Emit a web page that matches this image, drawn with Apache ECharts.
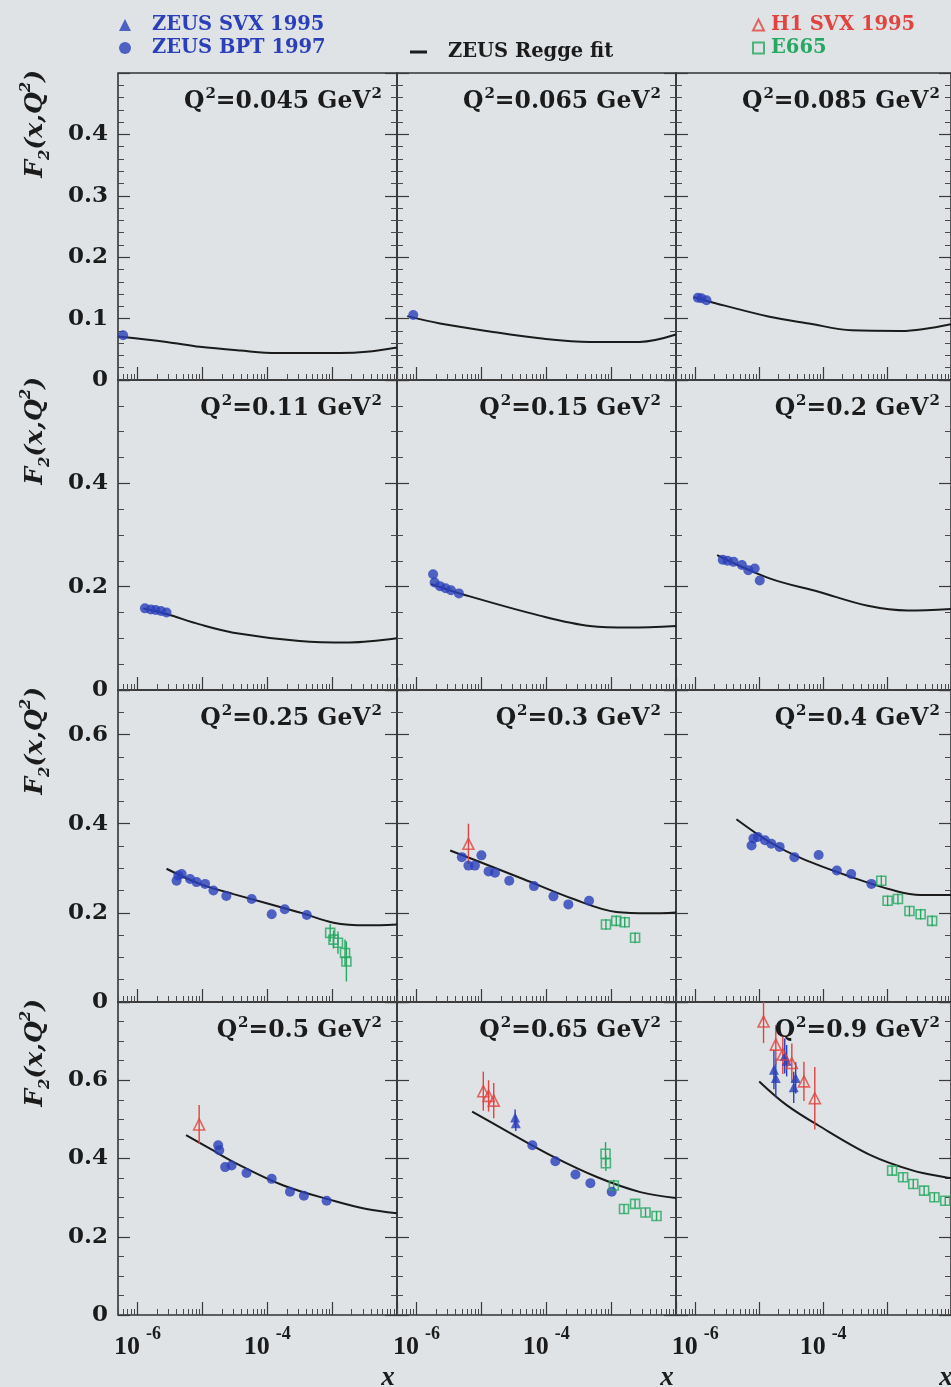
<!DOCTYPE html>
<html>
<head>
<meta charset="utf-8">
<script src="https://cdn.jsdelivr.net/npm/echarts@6/dist/echarts.min.js"></script>
<style>
  html, body { margin: 0; padding: 0; background: #dfe3e5; }
  #chart { width: 951px; height: 1387px; }
</style>
</head>
<body>
<div id="chart"></div>
<script>
// ---- Q^2 bins (one panel each, 3 per row) ----
const q2Labels = ['0.045', '0.065', '0.085', '0.11', '0.15', '0.2', '0.25', '0.3', '0.4', '0.5', '0.65', '0.9'];
const rowMax = [0.5, 0.6, 0.7, 0.8];
const rowStep = [0.1, 0.2, 0.2, 0.2];
const xLabelExponents = [-6, -4];

// ---- ZEUS Regge fit, [x, F2] ----
const regge0045 = [[5.0e-7, 0.071], [2.8e-6, 0.062], [9.1e-6, 0.054], [3.8e-5, 0.048], [1.41e-4, 0.044], [1.32e-3, 0.044], [3.39e-3, 0.046], [1e-2, 0.053]];
const regge0065 = [[7.2e-7, 0.104], [2.3e-6, 0.092], [1.35e-5, 0.079], [7.9e-5, 0.068], [4.7e-4, 0.062], [2.75e-3, 0.062], [1e-2, 0.074]];
const regge0085 = [[9.4e-7, 0.135], [1.62e-6, 0.128], [1.45e-5, 0.103], [6.0e-5, 0.092], [2.8e-4, 0.081], [1.66e-3, 0.080], [1e-2, 0.091]];
const regge011 = [[1.22e-6, 0.158], [2.8e-6, 0.147], [9.1e-6, 0.127], [3.0e-5, 0.111], [3.16e-4, 0.095], [1.86e-3, 0.092], [1e-2, 0.100]];
const regge015 = [[1.67e-6, 0.205], [5.9e-6, 0.183], [7.9e-5, 0.144], [4.7e-4, 0.124], [1.95e-3, 0.121], [1e-2, 0.124]];
const regge020 = [[2.2e-6, 0.261], [1.45e-5, 0.216], [8.5e-5, 0.190], [5.0e-4, 0.163], [2.09e-3, 0.154], [1e-2, 0.157]];
const regge025 = [[2.8e-6, 0.299], [9.1e-6, 0.265], [3.02e-5, 0.242], [3.16e-4, 0.201], [1.05e-3, 0.178], [3.4e-3, 0.172], [1e-2, 0.174]];
const regge030 = [[3.3e-6, 0.340], [9.5e-6, 0.314], [4.4e-5, 0.276], [2.63e-4, 0.231], [1.2e-3, 0.202], [3.98e-3, 0.199], [1e-2, 0.201]];
const regge040 = [[4.4e-6, 0.410], [1.45e-5, 0.359], [4.79e-5, 0.321], [2.82e-4, 0.280], [1.3e-3, 0.250], [3.35e-3, 0.240], [1e-2, 0.240]];
const regge050 = [[5.6e-6, 0.460], [1.31e-5, 0.425], [3.02e-5, 0.391], [1.78e-4, 0.331], [1.05e-3, 0.292], [3.39e-3, 0.271], [1e-2, 0.260]];
const regge065 = [[7.2e-6, 0.520], [2.57e-5, 0.468], [1.17e-4, 0.408], [6.17e-4, 0.352], [2.82e-3, 0.314], [1e-2, 0.299]];
const regge090 = [[1.0e-5, 0.597], [2.66e-5, 0.537], [8.32e-5, 0.485], [5.62e-4, 0.408], [2.57e-3, 0.369], [8.1e-3, 0.352], [1e-2, 0.350]];

// ---- ZEUS BPT 1997, [x, F2] ----
const bpt0045 = [[6.0e-7, 0.073]];
const bpt0065 = [[8.9e-7, 0.106]];
const bpt0085 = [[1.1e-6, 0.134], [1.25e-6, 0.133], [1.5e-6, 0.130]];
const bpt011 = [[1.3e-6, 0.158], [1.6e-6, 0.156], [1.9e-6, 0.155], [2.3e-6, 0.153], [2.8e-6, 0.150]];
const bpt015 = [[1.8e-6, 0.224], [1.9e-6, 0.208], [2.3e-6, 0.201], [2.8e-6, 0.197], [3.4e-6, 0.193], [4.5e-6, 0.187]];
const bpt020 = [[2.69e-6, 0.252], [3.2e-6, 0.250], [3.98e-6, 0.248], [5.37e-6, 0.242], [6.76e-6, 0.232], [8.51e-6, 0.235], [1.02e-5, 0.212]];
const bpt025 = [[4.0e-6, 0.272], [4.25e-6, 0.284], [4.79e-6, 0.287], [6.46e-6, 0.276], [8.13e-6, 0.269], [1.10e-5, 0.265], [1.48e-5, 0.250], [2.34e-5, 0.238], [5.75e-5, 0.231], [1.17e-4, 0.197], [1.86e-4, 0.208], [4.07e-4, 0.195]];
const bpt030 = [[5.0e-6, 0.325], [6.31e-6, 0.306], [7.94e-6, 0.306], [1.0e-5, 0.329], [1.29e-5, 0.293], [1.62e-5, 0.290], [2.69e-5, 0.272], [6.46e-5, 0.260], [1.29e-4, 0.237], [2.19e-4, 0.219], [4.57e-4, 0.227]];
const bpt040 = [[7.59e-6, 0.351], [8.13e-6, 0.367], [9.55e-6, 0.370], [1.23e-5, 0.363], [1.55e-5, 0.355], [2.09e-5, 0.348], [3.55e-5, 0.325], [8.51e-5, 0.330], [1.64e-4, 0.295], [2.75e-4, 0.287], [5.69e-4, 0.265]];
const bpt050 = [[1.75e-5, 0.434], [1.82e-5, 0.421], [2.24e-5, 0.378], [2.82e-5, 0.382], [4.79e-5, 0.363], [1.17e-4, 0.348], [2.24e-4, 0.315], [3.67e-4, 0.305], [8.22e-4, 0.292]];
const bpt065 = [[6.1e-5, 0.434], [1.38e-4, 0.393], [2.82e-4, 0.359], [4.79e-4, 0.337], [1.02e-3, 0.315]];

// ---- ZEUS SVX 1995, [x, F2, error] ----
const svx065 = [[3.31e-5, 0.505, 0.02], [3.39e-5, 0.490, 0.02]];
const svx090 = [[1.70e-5, 0.627, 0.05], [1.82e-5, 0.606, 0.05], [2.51e-5, 0.662, 0.045], [2.69e-5, 0.650, 0.04], [3.47e-5, 0.582, 0.04], [3.72e-5, 0.606, 0.04]];

// ---- H1 SVX 1995, [x, F2, error] ----
const h1030 = [[6.31e-6, 0.355, 0.045]];
const h1050 = [[8.91e-6, 0.487, 0.05]];
const h1065 = [[1.07e-5, 0.572, 0.05], [1.29e-5, 0.560, 0.04], [1.55e-5, 0.548, 0.045]];
const h1090 = [[1.17e-5, 0.750, 0.055], [1.82e-5, 0.691, 0.05], [2.34e-5, 0.666, 0.05], [3.24e-5, 0.644, 0.05], [5.01e-5, 0.597, 0.05], [7.41e-5, 0.554, 0.08]];

// ---- E665, [x, F2, error] ----
const e665025 = [[9.33e-4, 0.155, 0.02], [1.05e-3, 0.140, 0.02], [1.23e-3, 0.133, 0.025], [1.58e-3, 0.110, 0.03], [1.66e-3, 0.091, 0.045]];
const e665030 = [[8.32e-4, 0.174, 0.012], [1.2e-3, 0.182, 0.012], [1.62e-3, 0.179, 0.012], [2.34e-3, 0.144, 0.012]];
const e665040 = [[8.13e-4, 0.272, 0.012], [1.02e-3, 0.227, 0.012], [1.48e-3, 0.231, 0.012], [2.24e-3, 0.204, 0.012], [3.35e-3, 0.197, 0.012], [5.07e-3, 0.182, 0.012]];
const e665065 = [[8.2e-4, 0.412, 0.03], [8.3e-4, 0.388, 0.02], [1.10e-3, 0.331, 0.015], [1.58e-3, 0.271, 0.012], [2.34e-3, 0.284, 0.012], [3.39e-3, 0.262, 0.012], [5.01e-3, 0.253, 0.012]];
const e665090 = [[1.2e-3, 0.369, 0.012], [1.78e-3, 0.352, 0.012], [2.57e-3, 0.335, 0.012], [3.8e-3, 0.318, 0.012], [5.5e-3, 0.301, 0.012], [8.13e-3, 0.292, 0.012]];

const panels = [
  { regge: regge0045, bpt: bpt0045, svx: [], h1: [], e665: [] },
  { regge: regge0065, bpt: bpt0065, svx: [], h1: [], e665: [] },
  { regge: regge0085, bpt: bpt0085, svx: [], h1: [], e665: [] },
  { regge: regge011, bpt: bpt011, svx: [], h1: [], e665: [] },
  { regge: regge015, bpt: bpt015, svx: [], h1: [], e665: [] },
  { regge: regge020, bpt: bpt020, svx: [], h1: [], e665: [] },
  { regge: regge025, bpt: bpt025, svx: [], h1: [], e665: e665025 },
  { regge: regge030, bpt: bpt030, svx: [], h1: h1030, e665: e665030 },
  { regge: regge040, bpt: bpt040, svx: [], h1: [], e665: e665040 },
  { regge: regge050, bpt: bpt050, svx: [], h1: h1050, e665: [] },
  { regge: regge065, bpt: bpt065, svx: svx065, h1: h1065, e665: e665065 },
  { regge: regge090, bpt: [], svx: svx090, h1: h1090, e665: e665090 }
];

// ---- layout & style ----
const BLUE = '#2b3fba';
const RED = '#e2433f';
const GREEN = '#25a862';
const INK = '#1b1b1b';
const SERIF = 'Liberation Serif';
const WIDE_SERIF = 'DejaVu Serif';
const colLeft = [118, 397, 676];
const colWidth = 279;
const rowTop = [73, 380, 690, 1002];
const rowHeight = [307, 310, 312, 313];
const X_MIN = 5e-7, X_MAX = 1e-2;

const majorX = [];
const minorX = [];
for (let n = -7; n <= -2; n++) {
  for (let m = 1; m <= 9; m++) {
    const v = m * Math.pow(10, n);
    if (v < X_MIN * 0.999 || v > X_MAX * 1.001) continue;
    (m === 1 ? majorX : minorX).push(v);
  }
}
const labelX = xLabelExponents.map(e => Math.pow(10, e));

const grids = [], xAxes = [], yAxes = [], series = [], titles = [], graphics = [];

function errorBars(data, color, ai) {
  return {
    type: 'custom', name: 'err', xAxisIndex: ai, yAxisIndex: ai, clip: true, z: 3,
    data: data,
    encode: { x: 0, y: 1 },
    renderItem(params, api) {
      const x = api.value(0), y = api.value(1), e = api.value(2);
      const p1 = api.coord([x, y + e]);
      const p2 = api.coord([x, y - e]);
      return {
        type: 'line',
        shape: { x1: p1[0], y1: p1[1], x2: p2[0], y2: p2[1] },
        style: { stroke: color, lineWidth: 1.4 }
      };
    }
  };
}

panels.forEach((p, i) => {
  const r = Math.floor(i / 3), c = i % 3;
  const bottomRow = r === 3;
  grids.push({
    left: colLeft[c], top: rowTop[r], width: colWidth, height: rowHeight[r],
    show: true, borderColor: '#333333', borderWidth: 1.6, backgroundColor: 'transparent'
  });
  const ax = 2 * i;
  // main log x axis: decade ticks + labels on the bottom row
  xAxes.push({
    type: 'log', logBase: 10, gridIndex: i, min: X_MIN, max: X_MAX, position: 'bottom',
    axisLine: { show: false },
    splitLine: { show: false },
    axisTick: { show: true, inside: true, length: 13, customValues: majorX, lineStyle: { color: '#3a3a3a', width: 1.2 } },
    axisLabel: {
      show: bottomRow, customValues: labelX, margin: 10,
      formatter: v => '{b|10}{s|' + Math.round(Math.log10(v)) + '}',
      rich: {
        b: { fontFamily: SERIF, fontWeight: 'bold', fontSize: 26, color: INK, verticalAlign: 'bottom' },
        s: { fontFamily: SERIF, fontWeight: 'bold', fontSize: 18, color: INK, verticalAlign: 'bottom', padding: [0, 0, 17, 6] }
      }
    }
  });
  // companion axis carrying the 2..9 minor ticks
  xAxes.push({
    type: 'log', logBase: 10, gridIndex: i, min: X_MIN, max: X_MAX, position: 'bottom',
    axisLine: { show: false }, splitLine: { show: false },
    axisTick: { show: true, inside: true, length: 6, customValues: minorX, lineStyle: { color: '#4a4a4a', width: 1 } },
    axisLabel: { show: false }
  });
  const yCommon = {
    type: 'value', gridIndex: i, min: 0, max: rowMax[r], interval: rowStep[r],
    axisLine: { show: false }, splitLine: { show: false },
    axisTick: { show: true, inside: true, length: 12, lineStyle: { color: '#3a3a3a', width: 1.2 } },
    minorTick: { show: true, splitNumber: r === 0 ? 5 : 4, length: 6, lineStyle: { color: '#4a4a4a', width: 1 } }
  };
  yAxes.push(Object.assign({}, yCommon, {
    position: 'left',
    axisLabel: {
      show: c === 0, showMaxLabel: false, margin: 10,
      fontFamily: WIDE_SERIF, fontWeight: 'bold', fontSize: 23, color: INK
    }
  }));
  yAxes.push(Object.assign({}, yCommon, { position: 'right', axisLabel: { show: false } }));

  series.push({
    type: 'line', name: 'ZEUS Regge fit', xAxisIndex: ax, yAxisIndex: ax,
    data: p.regge, smooth: 0.35, symbol: 'none', z: 2,
    lineStyle: { color: INK, width: 2 }, itemStyle: { color: INK }
  });
  if (p.svx.length) series.push(errorBars(p.svx, BLUE, ax));
  if (p.h1.length) series.push(errorBars(p.h1, RED, ax));
  if (p.e665.length) series.push(errorBars(p.e665, GREEN, ax));
  if (p.bpt.length) series.push({
    type: 'scatter', name: 'ZEUS BPT 1997', xAxisIndex: ax, yAxisIndex: ax, z: 4,
    data: p.bpt, symbol: 'circle', symbolSize: 10, itemStyle: { color: BLUE }
  });
  if (p.svx.length) series.push({
    type: 'scatter', name: 'ZEUS SVX 1995', xAxisIndex: ax, yAxisIndex: ax, z: 4,
    data: p.svx, symbol: 'triangle', symbolSize: 10, itemStyle: { color: BLUE }
  });
  if (p.h1.length) series.push({
    type: 'scatter', name: 'H1 SVX 1995', xAxisIndex: ax, yAxisIndex: ax, z: 4,
    data: p.h1, symbol: 'triangle', symbolSize: 11,
    itemStyle: { color: 'rgba(0,0,0,0)', borderColor: RED, borderWidth: 1.6 }
  });
  if (p.e665.length) series.push({
    type: 'scatter', name: 'E665', xAxisIndex: ax, yAxisIndex: ax, z: 4,
    data: p.e665, symbol: 'rect', symbolSize: 9,
    itemStyle: { color: 'rgba(0,0,0,0)', borderColor: GREEN, borderWidth: 1.6 }
  });

  titles.push({
    text: '{q|Q}{s|2}{q|=' + q2Labels[i] + ' GeV}{s|2}',
    right: 951 - (colLeft[c] + colWidth - 10), top: rowTop[r] + 9,
    textStyle: {
      rich: {
        q: { fontFamily: WIDE_SERIF, fontWeight: 'bold', fontSize: 23.5, color: INK, verticalAlign: 'bottom' },
        s: { fontFamily: WIDE_SERIF, fontWeight: 'bold', fontSize: 15, color: INK, verticalAlign: 'bottom', padding: [0, 0, 12, 1] }
      }
    }
  });
});

// y-axis titles, one per row
rowTop.forEach(t => {
  graphics.push({
    type: 'text', x: 36, y: t - 3, rotation: Math.PI / 2,
    style: {
      text: '{f|F}{b|2}{f|(x,Q}{p|2}{f|)}', align: 'right', verticalAlign: 'middle',
      rich: {
        f: { fontFamily: WIDE_SERIF, fontStyle: 'italic', fontWeight: 'bold', fontSize: 25, fill: INK, verticalAlign: 'bottom', padding: [0, 0, 5, 0] },
        b: { fontFamily: WIDE_SERIF, fontStyle: 'italic', fontWeight: 'bold', fontSize: 15, fill: INK, verticalAlign: 'bottom' },
        p: { fontFamily: WIDE_SERIF, fontStyle: 'italic', fontWeight: 'bold', fontSize: 15, fill: INK, verticalAlign: 'bottom', padding: [0, 0, 19, 0] }
      }
    }
  });
});
// x-axis titles under each column
colLeft.forEach(l => {
  graphics.push({
    type: 'text', x: l + colWidth - 9, y: 1378,
    style: { text: 'x', fontFamily: SERIF, fontStyle: 'italic', fontWeight: 'bold', fontSize: 27, fill: INK, align: 'center', verticalAlign: 'middle' }
  });
});

const legendText = { fontFamily: WIDE_SERIF, fontWeight: 'bold', fontSize: 19.5 };
const option = {
  backgroundColor: '#dfe3e5',
  animation: false,
  title: titles,
  grid: grids,
  xAxis: xAxes,
  yAxis: yAxes,
  series: series,
  graphic: graphics,
  legend: [
    {
      orient: 'vertical', left: 114, top: 10, itemGap: 3, itemWidth: 12, itemHeight: 12,
      selectedMode: false, textStyle: Object.assign({ padding: [0, 0, 0, 16] }, legendText),
      data: [
        { name: 'ZEUS SVX 1995', textStyle: { color: BLUE } },
        { name: 'ZEUS BPT 1997', textStyle: { color: BLUE } }
      ]
    },
    {
      left: 405, top: 37, itemWidth: 17, itemHeight: 3, selectedMode: false,
      textStyle: Object.assign({ color: INK, padding: [0, 0, 0, 16] }, legendText),
      data: [{ name: 'ZEUS Regge fit', icon: 'rect', itemStyle: { color: INK } }]
    },
    {
      orient: 'vertical', left: 747, top: 10, itemGap: 3, itemWidth: 11, itemHeight: 11,
      selectedMode: false, textStyle: Object.assign({ padding: [0, 0, 0, 2] }, legendText),
      data: [
        { name: 'H1 SVX 1995', textStyle: { color: RED } },
        { name: 'E665', textStyle: { color: GREEN } }
      ]
    }
  ]
};

const chart = echarts.init(document.getElementById('chart'), null, { renderer: 'canvas' });
chart.setOption(option);
</script>
</body>
</html>
